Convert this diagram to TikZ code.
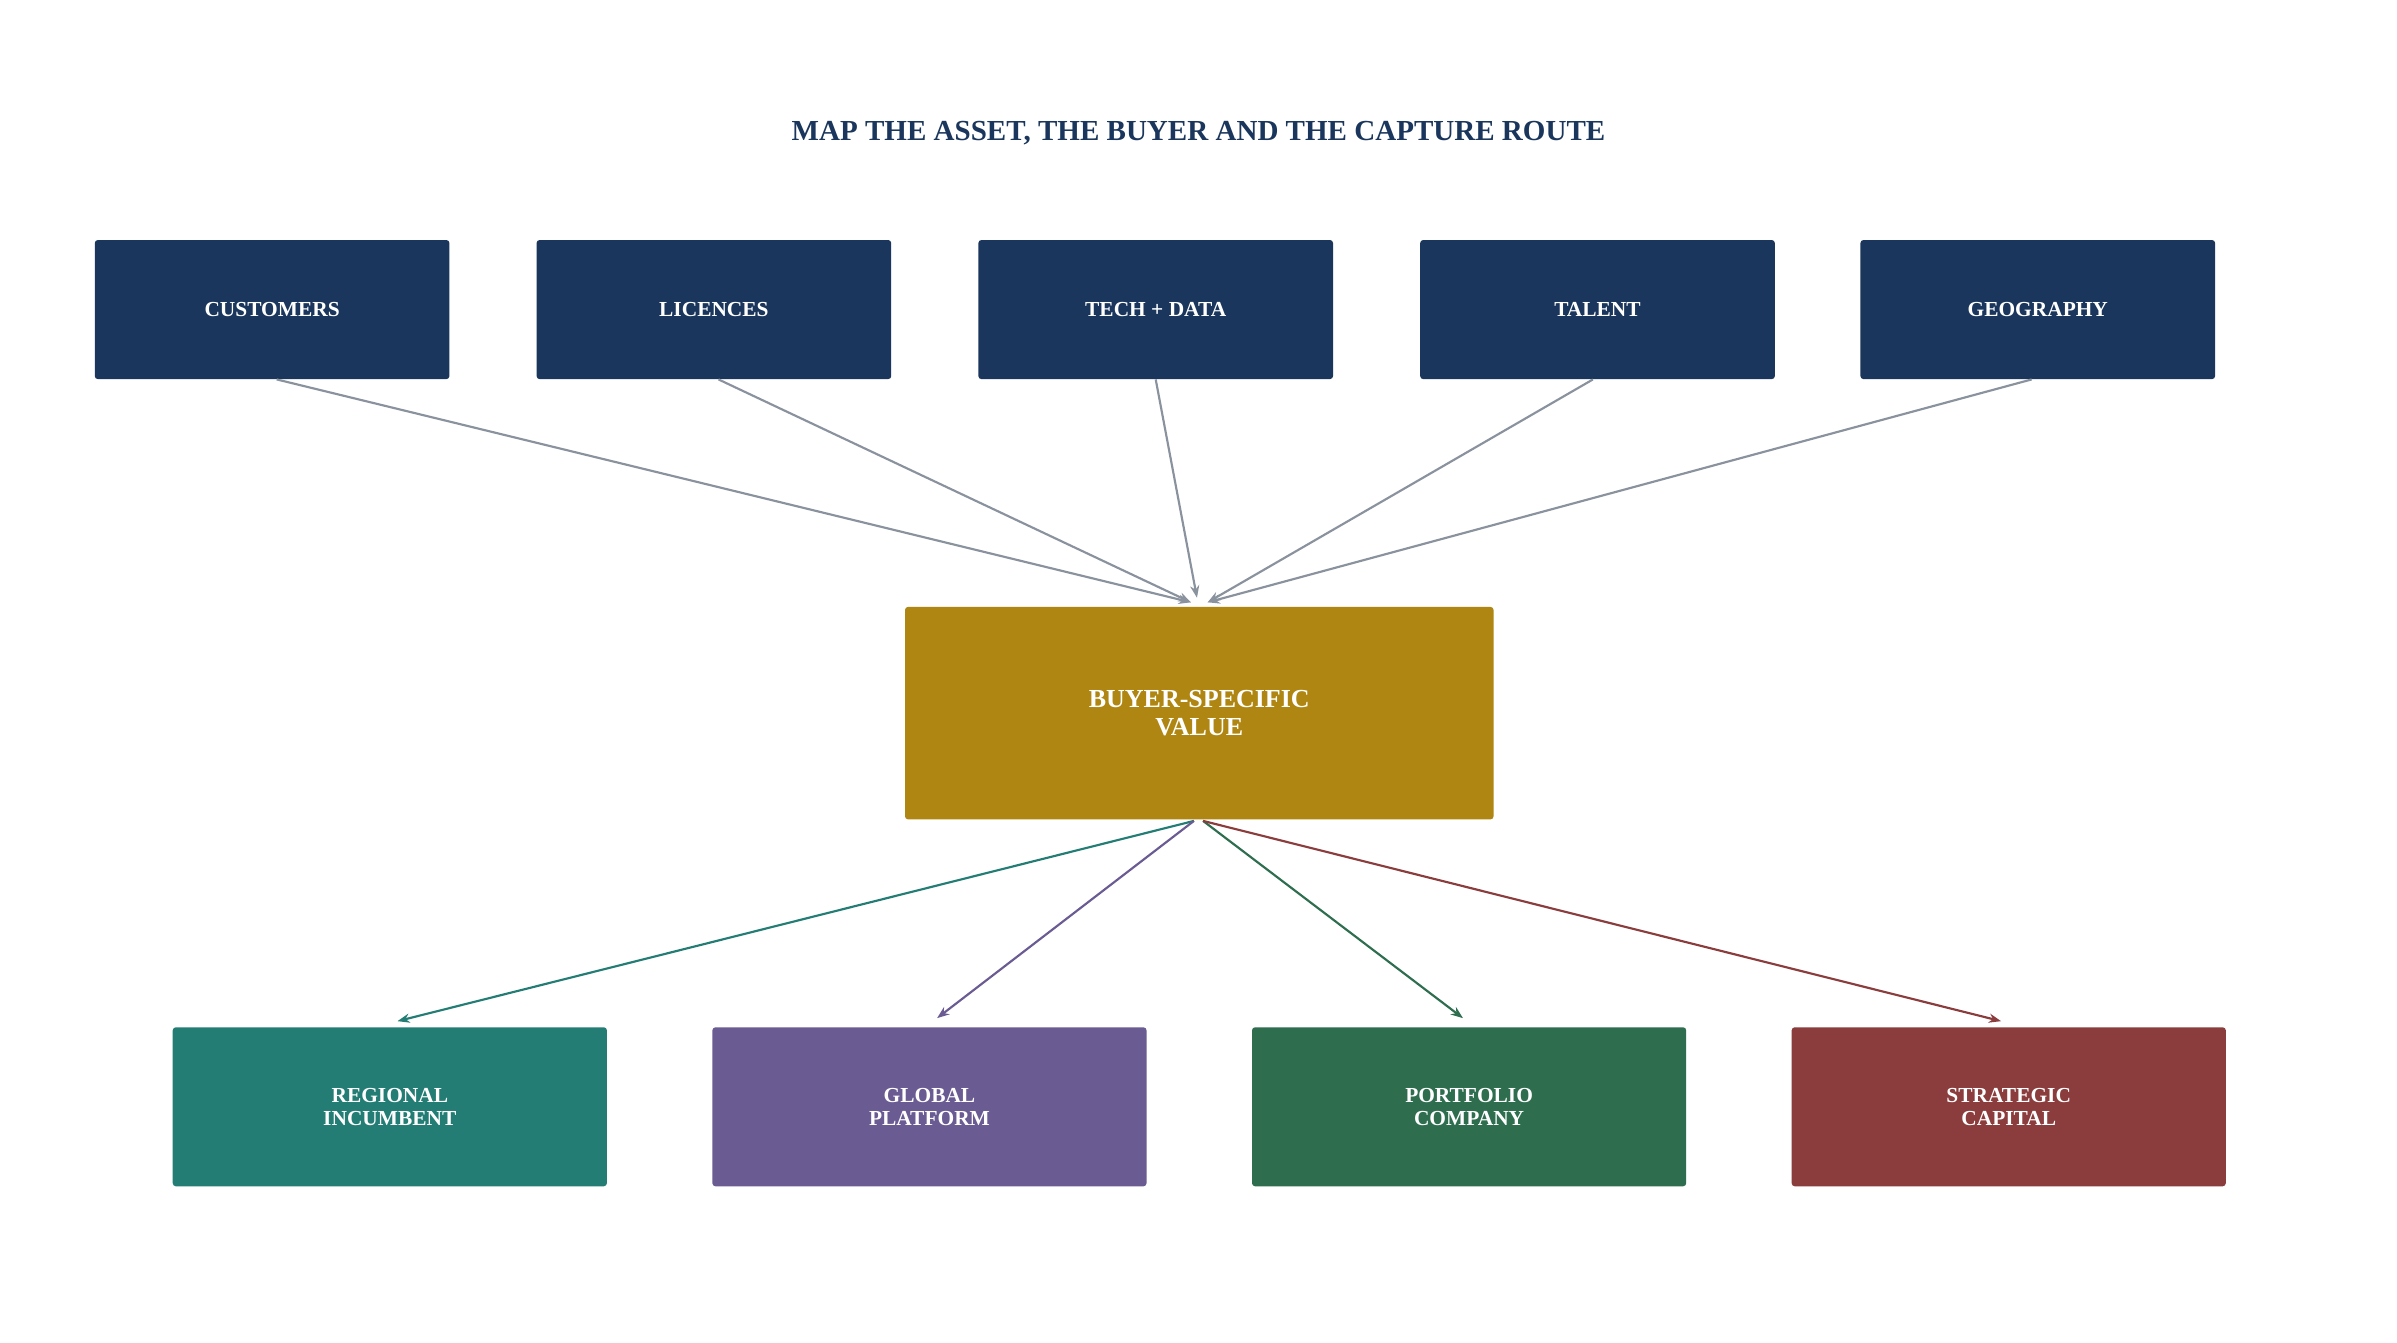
\documentclass[tikz,border=0pt]{standalone}
\usepackage{fontspec}
\setmainfont{Liberation Serif}
\usetikzlibrary{arrows.meta}
\definecolor{navy}{HTML}{1A365C}
\definecolor{gold}{HTML}{B08612}
\definecolor{teal2}{HTML}{237D74}
\definecolor{purp}{HTML}{6A5B92}
\definecolor{grn}{HTML}{2E6E4F}
\definecolor{redd}{HTML}{8B3D3D}
\definecolor{arr}{HTML}{8A929E}
\begin{document}
\begin{tikzpicture}[x=1pt,y=-1pt,
 box/.style={rounded corners=2pt,text=white,font=\bfseries\fontsize{14}{15}\selectfont,align=center,inner sep=0},
 top/.style={box,fill=navy,minimum width=232pt,minimum height=91pt},
 bot/.style={box,minimum width=284pt,minimum height=104pt},
 con/.style={line width=1.4pt,-{Stealth[length=8pt,width=6pt]}}]
\useasboundingbox (0,0) rectangle (1568,878);
\fill[white] (0,0) rectangle (1568,878);
\node[text=navy,font=\bfseries\fontsize{19}{21}\selectfont] (title) at (784,87) {MAP THE ASSET, THE BUYER AND THE CAPTURE ROUTE};
\node[top] (c) at (178,202.5) {CUSTOMERS};
\node[top] (l) at (467,202.5) {LICENCES};
\node[top] (t) at (756,202.5) {TECH + DATA};
\node[top] (ta) at (1045,202.5) {TALENT};
\node[top] (g) at (1333,202.5) {GEOGRAPHY};
\node[box,fill=gold,minimum width=385pt,minimum height=139pt,font=\bfseries\fontsize{17}{18}\selectfont] (v) at (784.5,466.5) {BUYER-SPECIFIC\\VALUE};
\node[bot,fill=teal2] (r) at (255,724) {REGIONAL\\INCUMBENT};
\node[bot,fill=purp] (gp) at (608,724) {GLOBAL\\PLATFORM};
\node[bot,fill=grn] (pc) at (961,724) {PORTFOLIO\\COMPANY};
\node[bot,fill=redd] (sc) at (1314,724) {STRATEGIC\\CAPITAL};
\coordinate (vt1) at (779,394); \coordinate (vt2) at (783,391); \coordinate (vt3) at (790,394);
\coordinate (vb1) at (781,537); \coordinate (vb2) at (787,537);
\coordinate (rt) at (260,668); \coordinate (gt) at (613,666); \coordinate (pt) at (957,666); \coordinate (st) at (1309,668);
\draw[con,arr] ([xshift=3pt]c.south) -- (vt1);
\draw[con,arr] ([xshift=3pt]l.south) -- (vt1);
\draw[con,arr] (t.south) -- (vt2);
\draw[con,arr] ([xshift=-3pt]ta.south) -- (vt3);
\draw[con,arr] ([xshift=-4pt]g.south) -- (vt3);
\draw[con,teal2] (vb1) -- (rt);
\draw[con,purp] (vb1) -- (gt);
\draw[con,grn] (vb2) -- (pt);
\draw[con,redd] (vb2) -- (st);
\end{tikzpicture}
\end{document}
